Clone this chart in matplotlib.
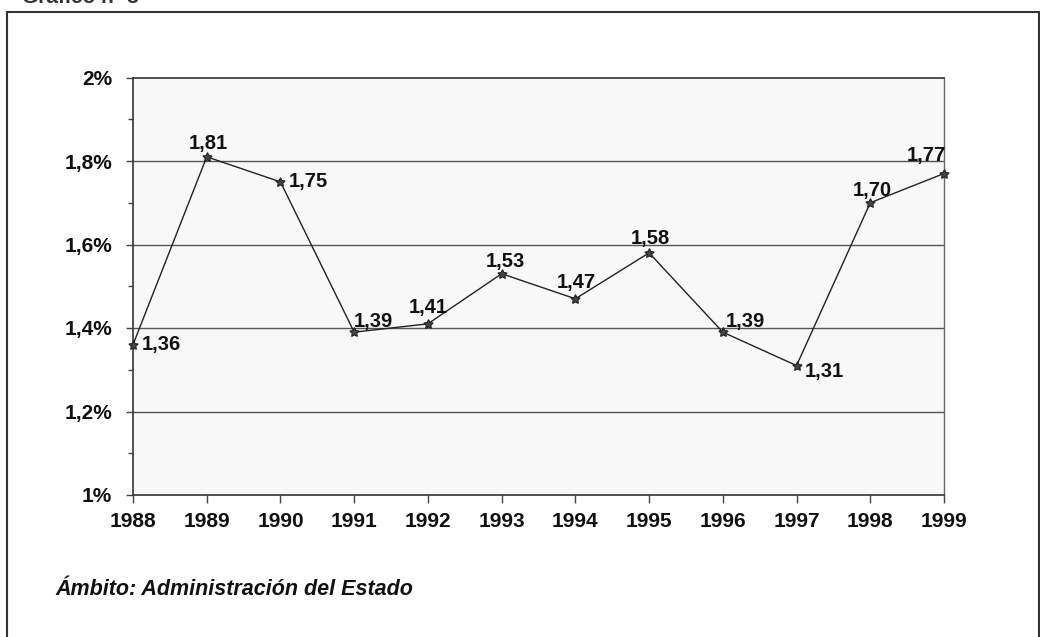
import matplotlib
matplotlib.use("Agg")
import matplotlib.pyplot as plt
from matplotlib.patches import Rectangle
from matplotlib.ticker import MultipleLocator, FixedLocator

years = [1988, 1989, 1990, 1991, 1992, 1993, 1994, 1995, 1996, 1997, 1998, 1999]
values = [1.36, 1.81, 1.75, 1.39, 1.41, 1.53, 1.47, 1.58, 1.39, 1.31, 1.70, 1.77]
labels = ["1,36", "1,81", "1,75", "1,39", "1,41", "1,53", "1,47", "1,58", "1,39", "1,31", "1,70", "1,77"]
ytick_vals = [1.0, 1.2, 1.4, 1.6, 1.8, 2.0]
ytick_labels = ["1%", "1,2%", "1,4%", "1,6%", "1,8%", "2%"]
caption = "Ámbito: Administración del Estado"

# label placement: (dx px, dy px, ha, va)
placement = [
    (9, 0, "left", "center"),
    (2, 8, "center", "baseline"),
    (8, 0, "left", "center"),
    (0, 5, "left", "baseline"),
    (0, 11, "center", "baseline"),
    (4, 7, "center", "baseline"),
    (1, 11, "center", "baseline"),
    (1, 9, "center", "baseline"),
    (3, 5, "left", "baseline"),
    (8, -6, "left", "center"),
    (2, 7, "center", "baseline"),
    (2, 13, "right", "baseline"),
]

FONT = "Liberation Sans"
PX = 0.72  # points per pixel at dpi 100
fig = plt.figure(figsize=(10.4, 6.37), dpi=100)
fig.patch.set_facecolor("white")

W, H = 1040, 637
left, right, bottom_px, top_px = 133, 944, 495, 77.5
ax = fig.add_axes([left / W, 1 - bottom_px / H, (right - left) / W, (bottom_px - top_px) / H])
ax.set_facecolor("#f8f8f8")

ax.plot(years, values, color="#222222", lw=1.0, marker=(5, 1, 0), ms=7,
        markerfacecolor="#444444", markeredgecolor="#222222", mew=0.8, clip_on=False, zorder=3)

ax.set_xlim(1988, 1999)
ax.set_ylim(1.0, 2.0)

for y in [1.2, 1.4, 1.6, 1.8]:
    ax.axhline(y, color="#555555", lw=1.0, zorder=1)

ax.xaxis.set_major_locator(FixedLocator(years))
ax.set_xticklabels([str(y) for y in years])
ax.yaxis.set_major_locator(FixedLocator(ytick_vals))
ax.set_yticklabels(ytick_labels)
ax.yaxis.set_minor_locator(MultipleLocator(0.1))

ax.tick_params(axis="x", direction="out", length=8 * PX, width=1, color="#444444", pad=6.5)
ax.tick_params(axis="y", which="major", direction="out", length=7 * PX, width=1, color="#444444", pad=10)
ax.tick_params(axis="y", which="minor", direction="out", length=5 * PX, width=1, color="#444444")
for lab in ax.get_xticklabels() + ax.get_yticklabels():
    lab.set_fontfamily(FONT)
    lab.set_fontweight("bold")
    lab.set_fontsize(15)
    lab.set_color("#111111")

for s in ["left", "bottom", "top"]:
    ax.spines[s].set_color("#333333")
    ax.spines[s].set_linewidth(1.2)
ax.spines["right"].set_color("#666666")
ax.spines["right"].set_linewidth(1.0)

for x, v, lab, (dx, dy, ha, va) in zip(years, values, labels, placement):
    ax.annotate(lab, (x, v), xytext=(dx * PX, dy * PX), textcoords="offset points",
                ha=ha, va=va, fontsize=14.5, fontweight="bold", family=FONT,
                color="#111111", annotation_clip=False, zorder=4)

# outer frame
fig.add_artist(Rectangle((7 / W, -0.05), (1039 - 7) / W, 1.05 - 12 / H,
                         transform=fig.transFigure, fill=False, edgecolor="#333333", lw=1.5))

# cut-off title at top
fig.text(22 / W, 1 - 3 / H, "Gráfico nº 3", fontsize=15, fontweight="bold", family=FONT,
         color="#333333", ha="left", va="baseline")

fig.text(55 / W, 1 - 595 / H, caption, fontsize=15.5, fontweight="bold", style="italic",
         family=FONT, color="#111111", ha="left", va="baseline")

fig.savefig("out.png", dpi=100)
